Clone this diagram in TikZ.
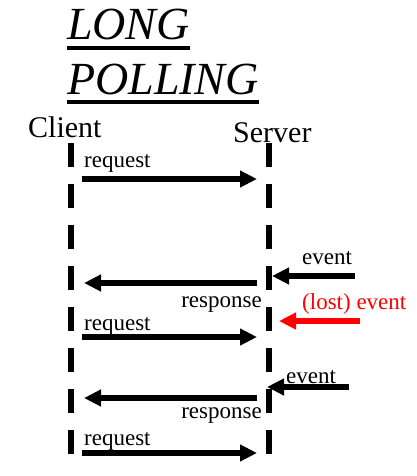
\documentclass[tikz,border=0pt]{standalone}
\usepackage{fontspec}
\setmainfont{Liberation Serif}
\usetikzlibrary{positioning, arrows.meta}
\tikzstyle{lifeline} = [line width=6pt, dash pattern=on 24pt off 17pt]
\tikzstyle{msg} = [line width=6pt, -{Triangle[length=17pt,width=16pt]}]
\tikzstyle{uline} = [line width=4pt]

\begin{document}
\begin{tikzpicture}[x=1pt, y=-1pt,
titletext/.style={inner sep=0pt, anchor=base west, font=\fontsize{46}{46}\selectfont\itshape},
roletext/.style={inner sep=0pt, anchor=base west, font=\fontsize{30}{30}\selectfont},
msgtext/.style={inner sep=0pt, font=\fontsize{23}{23}\selectfont}
]
\useasboundingbox (0,0) rectangle (417,476);
\node[titletext] (Long) at (67,40) {LONG};
\node[titletext] (Polling) at (67,95) {POLLING};
\draw[uline] ([yshift=-8.5pt]Long.base west) -- ([yshift=-8.5pt]Long.base east);
\draw[uline] ([yshift=-7.5pt]Polling.base west) -- ([yshift=-7.5pt]Polling.base east);

\node[roletext] (Client) at (28,137) {Client};
\node[roletext] (Server) at (233,142) {Server};

% lifelines
\coordinate (Ctop) at (70.5,143);
\coordinate (Cbot) at (70.5,454);
\coordinate (Stop) at (268.5,143);
\coordinate (Sbot) at (268.5,454);
\draw[lifeline] (Ctop) -- (Cbot);
\draw[lifeline] (Stop) -- (Sbot);

% messages
\coordinate (Req1a) at (82,179);
\coordinate (Req1b) at (257,179);
\coordinate (Resp1a) at (257,283);
\coordinate (Resp1b) at (84,283);
\coordinate (Req2a) at (82,337);
\coordinate (Req2b) at (257,337);
\coordinate (Resp2a) at (257,398);
\coordinate (Resp2b) at (84,398);
\coordinate (Req3a) at (82,453);
\coordinate (Req3b) at (257,453);
\coordinate (Ev1a) at (355,276);
\coordinate (Ev1b) at (272,276);
\coordinate (Losta) at (360,321);
\coordinate (Lostb) at (279,321);
\coordinate (Ev2a) at (349,387);
\coordinate (Ev2b) at (267,387);

\draw[msg] (Req1a) -- (Req1b);
\draw[msg] (Resp1a) -- (Resp1b);
\draw[msg] (Req2a) -- (Req2b);
\draw[msg] (Resp2a) -- (Resp2b);
\draw[msg] (Req3a) -- (Req3b);
\draw[msg] (Ev1a) -- (Ev1b);
\draw[msg, red] (Losta) -- (Lostb);
\draw[msg] (Ev2a) -- (Ev2b);

\node[msgtext, anchor=base west] (ReqT1) at (84,167) {request};
\node[msgtext, anchor=base east] (RespT1) at (262,307) {response};
\node[msgtext, anchor=base west] (EvT1) at (302,264) {event};
\node[msgtext, anchor=base west, text=red] (LostT) at (302,309) {(lost) event};
\node[msgtext, anchor=base west] (ReqT2) at (84,330) {request};
\node[msgtext, anchor=base west] (EvT2) at (286,383) {event};
\node[msgtext, anchor=base east] (RespT2) at (262,418) {response};
\node[msgtext, anchor=base west] (ReqT3) at (84,445) {request};
\end{tikzpicture}
\end{document}
